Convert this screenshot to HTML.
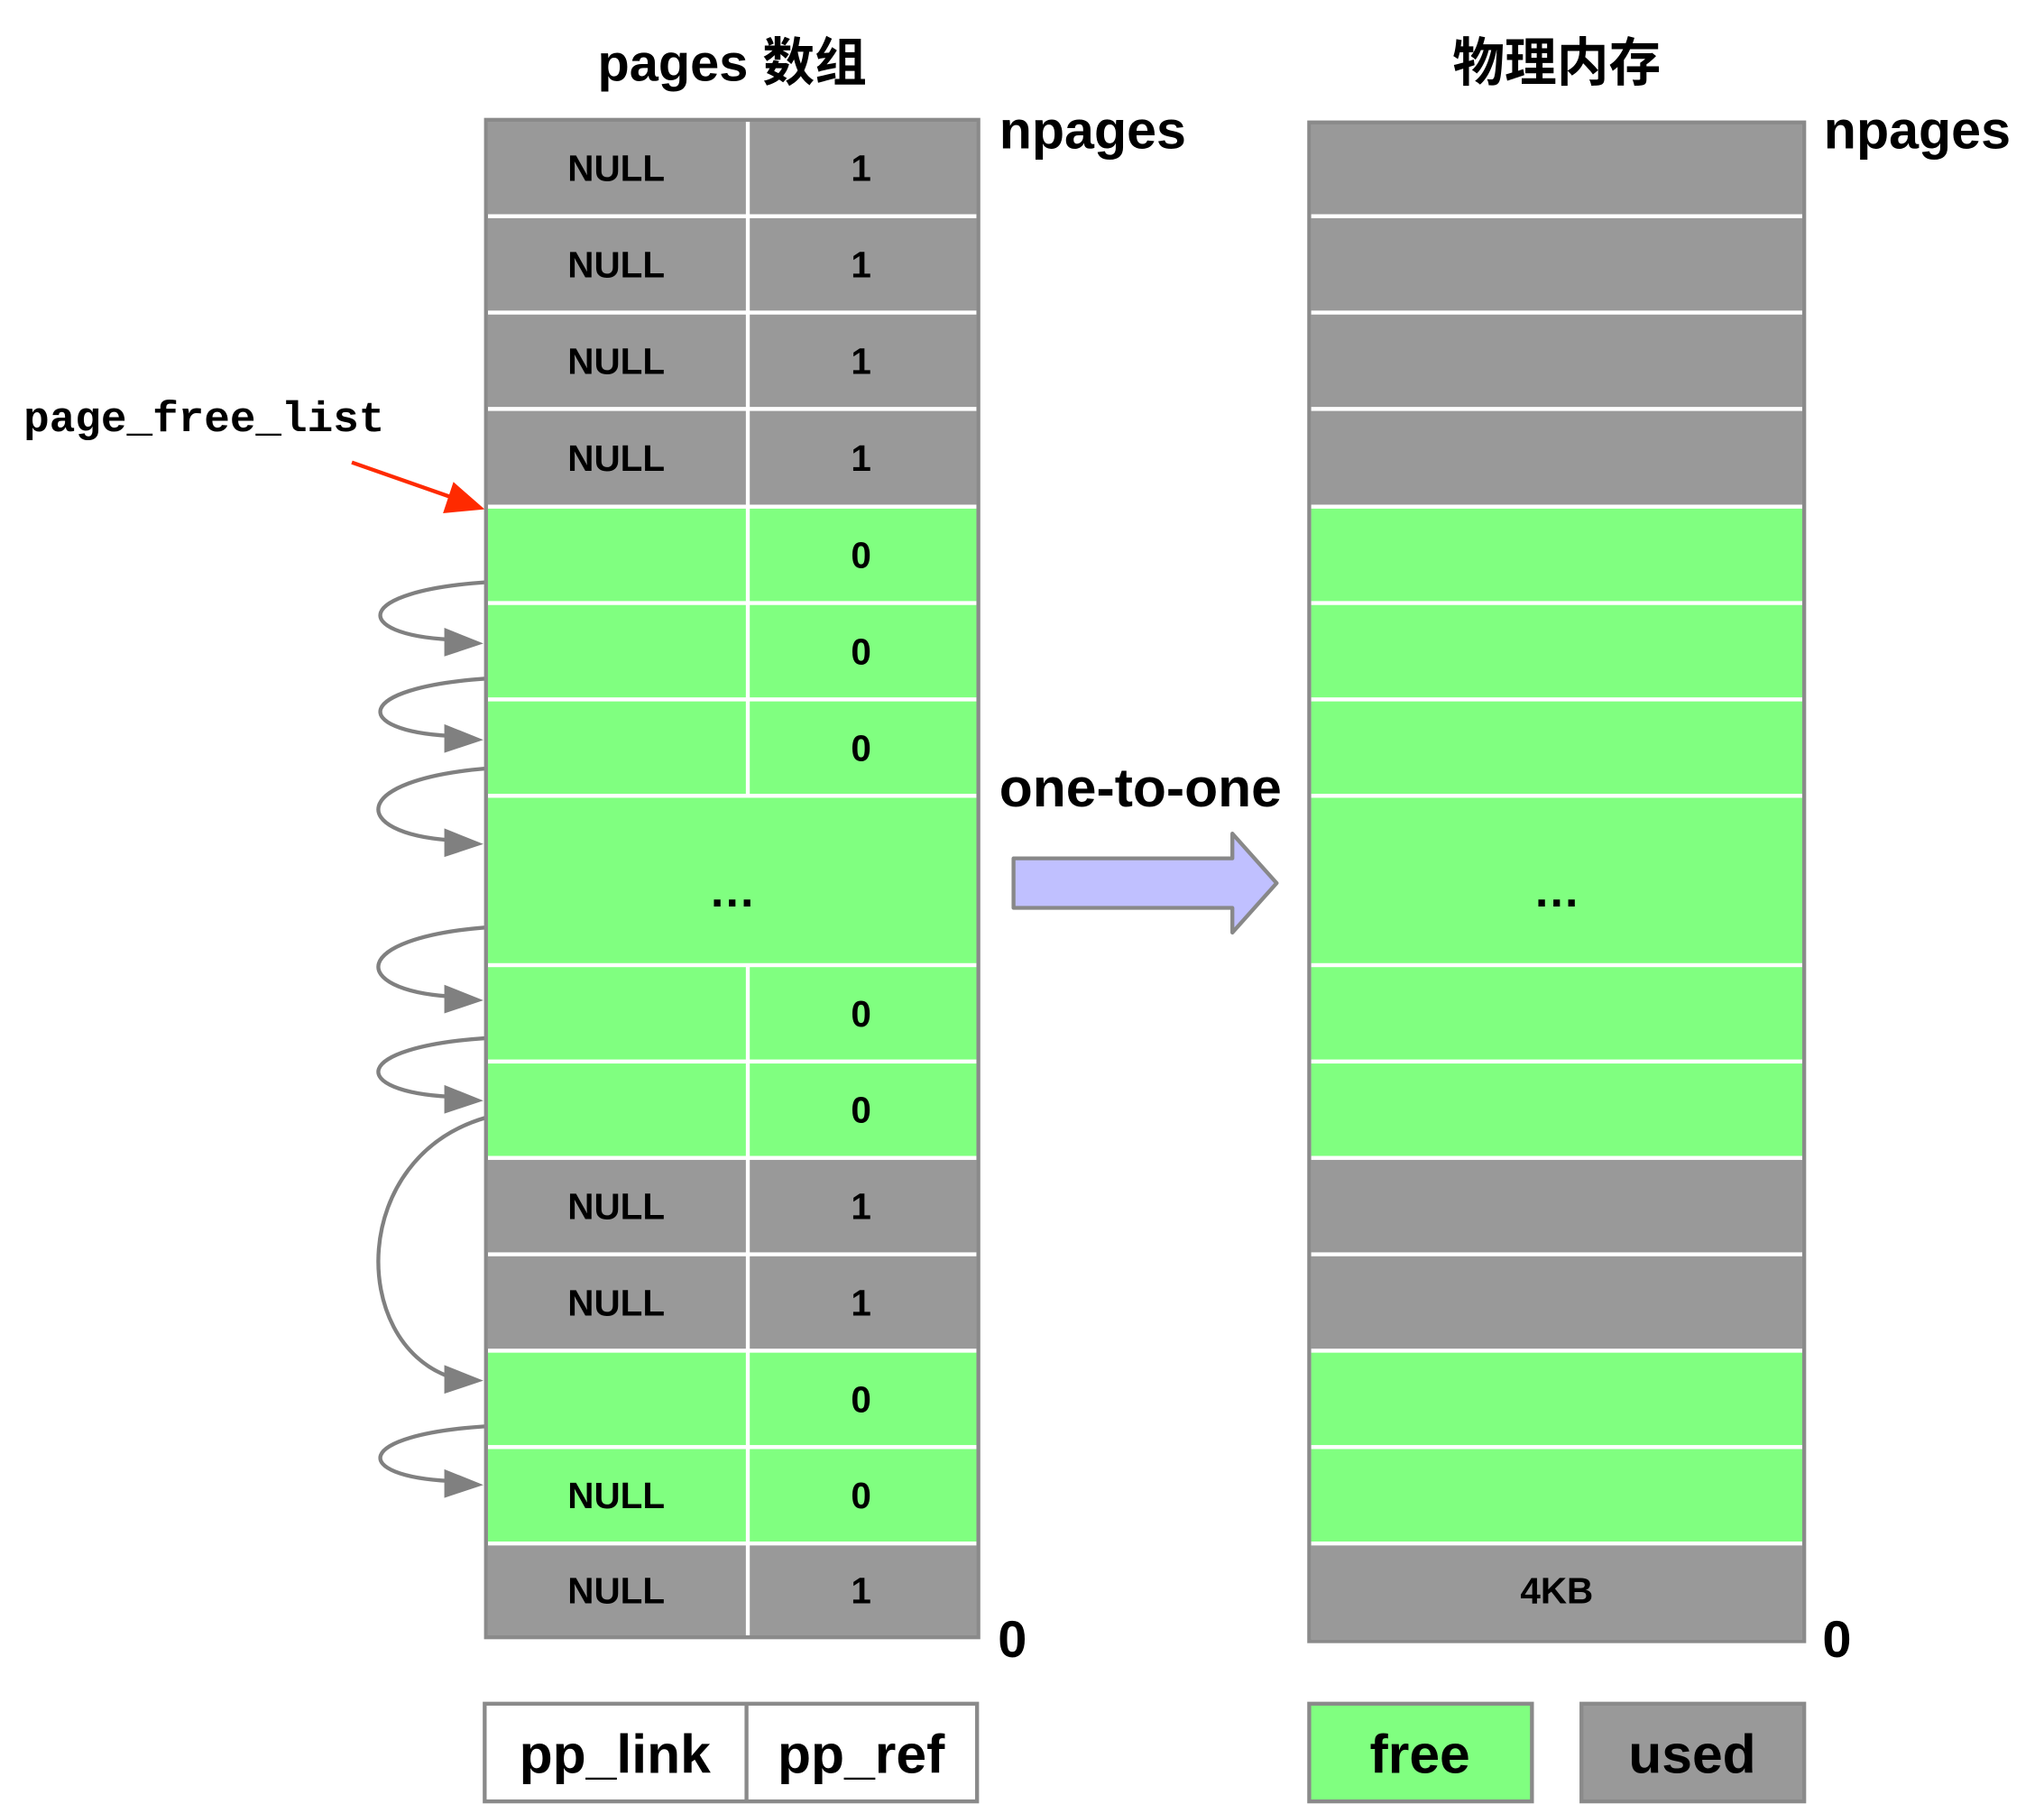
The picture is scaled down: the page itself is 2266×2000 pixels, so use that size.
<!DOCTYPE html>
<html><head><meta charset="utf-8"><style>
html,body{margin:0;padding:0;background:#fff;}
svg{display:block;}
text{font-family:"Liberation Sans","Noto Sans CJK SC",sans-serif;font-weight:bold;fill:#000;}
</style></head><body>
<svg id="fig" width="2266" height="2000" viewBox="0 0 1569 1385" xmlns="http://www.w3.org/2000/svg">
<text x="562" y="62" font-size="40" text-anchor="middle">pages 数组</text>
<text x="1195" y="62" font-size="40" text-anchor="middle">物理内存</text>
<text x="767" y="114" font-size="41">npages</text>
<text x="1400" y="114" font-size="41">npages</text>
<text x="766" y="1272" font-size="40">0</text>
<text x="1399" y="1272" font-size="40">0</text>
<text x="767" y="619" font-size="42">one-to-one</text>
<polygon points="778,659 946,659 946,640 980,678 946,716 946,697 778,697" fill="#c0c0ff" stroke="#888" stroke-width="3" stroke-linejoin="round"/>
<text x="18" y="331" font-size="33" style='font-family:"Liberation Mono","DejaVu Sans Mono",monospace'>page_free_list</text>
<line x1="270" y1="355" x2="350" y2="383" stroke="#ff2a00" stroke-width="3"/>
<polygon points="372,391 340,394 348,370" fill="#ff2a00"/>
<g id="rows"></g>
<g id="links"></g>
<rect x="373" y="92" width="378" height="1165" fill="none" stroke="#8a8a8a" stroke-width="3"/>
<rect x="1005" y="94" width="380" height="1166" fill="none" stroke="#8a8a8a" stroke-width="3"/>
<g>
<rect x="372" y="1308" width="378" height="75" fill="#fff" stroke="#8a8a8a" stroke-width="3"/>
<line x1="573" y1="1308" x2="573" y2="1383" stroke="#8a8a8a" stroke-width="3"/>
<text x="472" y="1361" font-size="42" text-anchor="middle">pp_link</text>
<text x="661" y="1361" font-size="42" text-anchor="middle">pp_ref</text>
</g>
<g>
<rect x="1005" y="1308" width="171" height="75" fill="#80ff80" stroke="#8a8a8a" stroke-width="3"/>
<text x="1090" y="1361" font-size="42" text-anchor="middle">free</text>
<rect x="1214" y="1308" width="171" height="75" fill="#999" stroke="#8a8a8a" stroke-width="3"/>
<text x="1299" y="1361" font-size="42" text-anchor="middle">used</text>
</g>
</svg>
<script>
const rowTops=[92,166,240,314,389,463,537,611,741,815,889,963,1037,1111,1185,1257];
const rowFree=[0,0,0,0,1,1,1,1,1,1,0,0,1,1,0];
const rowLink=["NULL","NULL","NULL","NULL","","","","…","","","NULL","NULL","","NULL","NULL"];
const rowRef=["1","1","1","1","0","0","0","","0","0","1","1","0","0","1"];
const linkFrom=[447,521,590,712,797,858,1095];
const linkTo=[494,568,648,768,845,1060,1140];
const linkOut=[290,290,288,288,288,288,290];
const NS="http://www.w3.org/2000/svg";
const rows=document.getElementById('rows'),links=document.getElementById('links');
function mk(tag,attrs,parent){const e=document.createElementNS(NS,tag);for(const k in attrs)e.setAttribute(k,attrs[k]);parent.appendChild(e);return e;}
const lastIdx=rowFree.length-1;
for(let i=0;i<rowFree.length;i++){
  const y0=rowTops[i],y1=rowTops[i+1],h=y1-y0,cy=(y0+y1)/2,col=rowFree[i]?"#80ff80":"#999";
  const r=mk('rect',{x:373,y:y0,width:378,height:h,fill:col,stroke:"#fff","stroke-width":3},rows);
  
  
  const m=mk('rect',{x:1005,y:y0,width:380,height:(i===lastIdx?h+3:h),fill:col,stroke:"#fff","stroke-width":3},rows);
  
  
  if(rowLink[i]==="…"){
    const t=mk('text',{x:562,y:cy+20,"font-size":36,"text-anchor":"middle"},rows);t.textContent="…";
    
    
    const t2=mk('text',{x:1195,y:cy+20,"font-size":36,"text-anchor":"middle"},rows);t2.textContent="…";
    
    
    continue;
  }
  const d=mk('line',{x1:574,y1:y0,x2:574,y2:y1,stroke:"#fff","stroke-width":3},rows);
  
  
  if(rowLink[i]){const t=mk('text',{x:473,y:cy+10,"font-size":28,"text-anchor":"middle"},rows);t.textContent=rowLink[i];
    
    }
  if(rowRef[i]){const t=mk('text',{x:661,y:cy+10,"font-size":28,"text-anchor":"middle"},rows);t.textContent=rowRef[i];
    
    }
}
const kb=mk('text',{x:1195,y:(rowTops[lastIdx]+rowTops[lastIdx+1])/2+10,"font-size":28,"text-anchor":"middle"},rows);kb.textContent="4KB";


for(let i=0;i<linkFrom.length;i++){
  const a=linkFrom[i],b=linkTo[i],x=linkOut[i];
  const p=mk('path',{d:`M373,${a} C${x-20},${a+(b-a)*0.15} ${x-20},${b-(b-a)*0.15} 345,${b-3}`,fill:"none",stroke:"#808080","stroke-width":3},links);
  
  
  const h=mk('polygon',{points:`371,${b} 341,${b-12} 341,${b+10}`,fill:"#808080"},links);
  
  
}
</script>
</body></html>
